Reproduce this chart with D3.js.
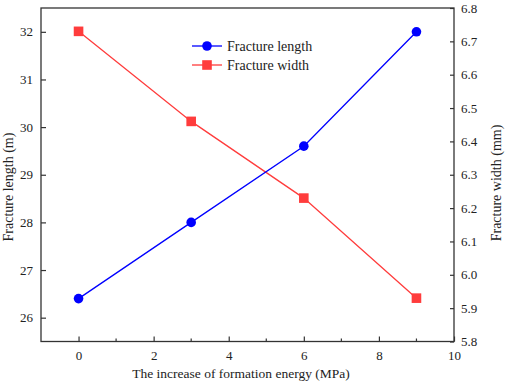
<!DOCTYPE html>
<html>
<head>
<meta charset="utf-8">
<script src="https://cdn.jsdelivr.net/npm/d3@7"></script>
<style>
  body { margin: 0; background: #fff; }
  svg text { font-family: "Liberation Serif", "Times New Roman", serif !important; fill: #222; }
</style>
</head>
<body>
<div id="wrapper"></div>
<script>
// chart data
const energy = [0, 3, 6, 9]
const fractureLength = [26.4, 28.0, 29.6, 32.0]
const fractureWidth = [6.73, 6.46, 6.23, 5.93]
const xTicks = [0, 2, 4, 6, 8, 10]
const xMinorTicks = [1, 3, 5, 7, 9]
const leftTicks = [26, 27, 28, 29, 30, 31, 32]
const rightTicks = [5.8, 5.9, 6.0, 6.1, 6.2, 6.3, 6.4, 6.5, 6.6, 6.7, 6.8]
const seriesNames = ["Fracture length", "Fracture width"]

const dims = {
  width: 505,
  height: 383,
  margin: { top: 8, right: 51, bottom: 41.5, left: 41 }
}
dims.boundWidth = dims.width - dims.margin.left - dims.margin.right
dims.boundHeight = dims.height - dims.margin.top - dims.margin.bottom

const svg = d3.select("#wrapper").append("svg")
  .attr("width", dims.width)
  .attr("height", dims.height)

const bound = svg.append("g")
  .attr("transform", `translate(${dims.margin.left},${dims.margin.top})`)

const x = d3.scaleLinear().domain([-1, 10]).range([0, dims.boundWidth])
const yLeft = d3.scaleLinear().domain([25.5, 32.5]).range([dims.boundHeight, 0])
const yRight = d3.scaleLinear().domain([5.8, 6.8]).range([dims.boundHeight, 0])

const axisColor = "#333"
const fontFamily = "'Liberation Serif', 'Times New Roman', serif"

// frame
bound.append("rect")
  .attr("width", dims.boundWidth)
  .attr("height", dims.boundHeight)
  .attr("fill", "none")
  .attr("stroke", axisColor)
  .attr("stroke-width", 1.3)

// bottom axis, ticks pointing inward
const xAxis = bound.append("g")
  .attr("transform", `translate(0,${dims.boundHeight})`)
  .call(d3.axisBottom(x).tickValues(xTicks).tickSizeInner(-5).tickSizeOuter(0).tickPadding(10))
xAxis.attr("font-family", null)
xAxis.select(".domain").remove()
xAxis.selectAll(".tick line").attr("stroke", axisColor).attr("stroke-width", 1.2)
xAxis.selectAll("text").style("font-size", "13px").style("font-family", fontFamily)
  .attr("dy", "0.71em").attr("y", 9)

bound.append("g")
  .selectAll("line")
  .data(xMinorTicks)
  .join("line")
  .attr("x1", d => x(d)).attr("x2", d => x(d))
  .attr("y1", dims.boundHeight).attr("y2", dims.boundHeight - 3)
  .attr("stroke", axisColor).attr("stroke-width", 1.2)

// left axis, ticks pointing inward
const leftAxis = bound.append("g")
  .call(d3.axisLeft(yLeft).tickValues(leftTicks).tickFormat(d3.format("d"))
    .tickSizeInner(-5).tickSizeOuter(0).tickPadding(8))
leftAxis.attr("font-family", null)
leftAxis.select(".domain").remove()
leftAxis.selectAll(".tick line").attr("stroke", axisColor).attr("stroke-width", 1.2)
leftAxis.selectAll("text").style("font-size", "13px").style("font-family", fontFamily)

// right axis, ticks pointing inward
const rightAxis = bound.append("g")
  .attr("transform", `translate(${dims.boundWidth},0)`)
  .call(d3.axisRight(yRight).tickValues(rightTicks).tickFormat(d3.format(".1f"))
    .tickSizeInner(-4).tickSizeOuter(0).tickPadding(7))
rightAxis.attr("font-family", null)
rightAxis.select(".domain").remove()
rightAxis.selectAll(".tick line").attr("stroke", axisColor).attr("stroke-width", 1.2)
rightAxis.selectAll("text").style("font-size", "13px").style("font-family", fontFamily)

// axis titles
svg.append("text")
  .attr("transform", `translate(8,187) rotate(-90)`)
  .attr("text-anchor", "middle")
  .attr("dy", "0.35em")
  .style("font-size", "14px")
  .text("Fracture length (m)")

svg.append("text")
  .attr("transform", `translate(496,183) rotate(-90)`)
  .attr("text-anchor", "middle")
  .attr("dy", "0.35em")
  .style("font-size", "14px")
  .text("Fracture width (mm)")

svg.append("text")
  .attr("x", 241)
  .attr("y", 378)
  .attr("text-anchor", "middle")
  .style("font-size", "13.5px")
  .text("The increase of formation energy (MPa)")

// series
const blue = "#0000ff"
const red = "#ff3c3c"

const lengthLine = d3.line().x((d, i) => x(energy[i])).y(d => yLeft(d))
const widthLine = d3.line().x((d, i) => x(energy[i])).y(d => yRight(d))

bound.append("path").datum(fractureWidth)
  .attr("d", widthLine).attr("fill", "none").attr("stroke", red).attr("stroke-width", 1.3)
bound.append("path").datum(fractureLength)
  .attr("d", lengthLine).attr("fill", "none").attr("stroke", blue).attr("stroke-width", 1.3)

bound.selectAll(".pt-len").data(fractureLength).join("circle")
  .attr("cx", (d, i) => x(energy[i])).attr("cy", d => yLeft(d))
  .attr("r", 4.8).attr("fill", blue)

bound.selectAll(".pt-wid").data(fractureWidth).join("rect")
  .attr("x", (d, i) => x(energy[i]) - 4.8).attr("y", d => yRight(d) - 4.8)
  .attr("width", 9.6).attr("height", 9.6).attr("fill", red)

// legend
const legend = svg.append("g").attr("transform", "translate(192,46)")
const legendItems = legend.selectAll("g").data(seriesNames).join("g")
  .attr("transform", (d, i) => `translate(0,${i * 19})`)
legendItems.append("line")
  .attr("x1", 0).attr("x2", 30).attr("y1", 0).attr("y2", 0)
  .attr("stroke", (d, i) => i === 0 ? blue : red).attr("stroke-width", 1.3)
legendItems.filter((d, i) => i === 0).append("circle")
  .attr("cx", 15).attr("cy", 0).attr("r", 4.8).attr("fill", blue)
legendItems.filter((d, i) => i === 1).append("rect")
  .attr("x", 10.2).attr("y", -4.8).attr("width", 9.6).attr("height", 9.6).attr("fill", red)
legendItems.append("text")
  .attr("x", 35).attr("dy", "0.35em")
  .style("font-size", "14px")
  .text(d => d)
</script>
</body>
</html>
